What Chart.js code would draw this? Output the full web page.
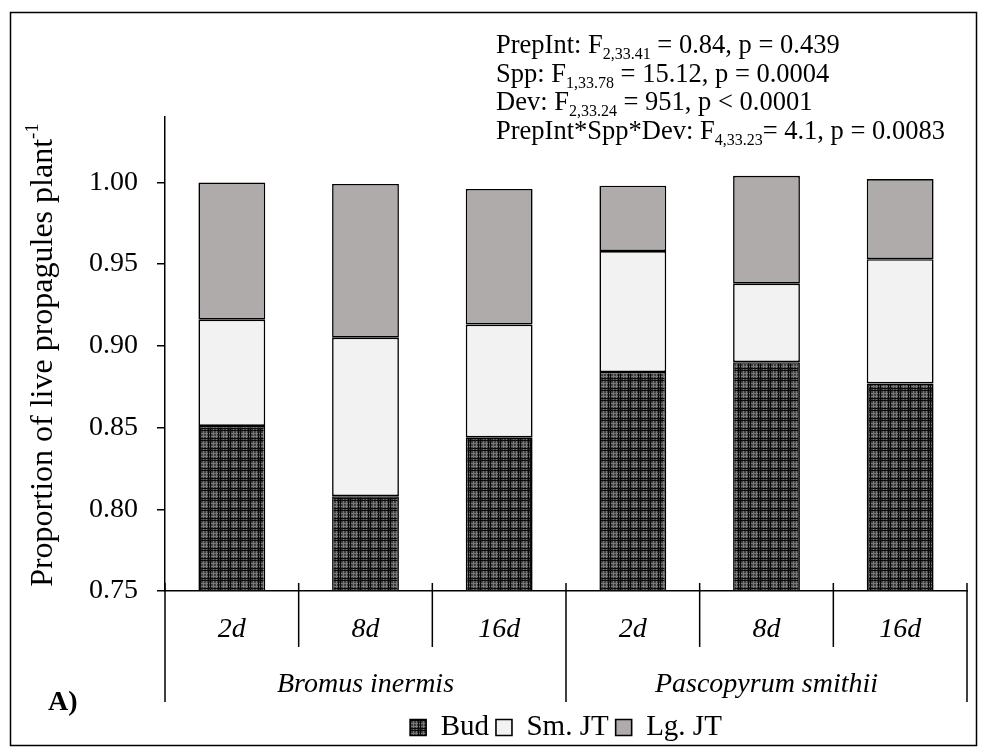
<!DOCTYPE html>
<html>
<head>
<meta charset="utf-8">
<script src="https://cdn.jsdelivr.net/npm/chart.js@4"></script>
<style>
  html, body { margin: 0; padding: 0; background: #fff; }
  #wrap { width: 987px; height: 753px; }
</style>
</head>
<body>
<div id="wrap"><canvas id="chart" width="987" height="753"></canvas></div>
<script>
const categories = ['2d', '8d', '16d', '2d', '8d', '16d'];
const groups = ['Bromus inermis', 'Pascopyrum smithii'];
const groupSizes = [3, 3];
const budValues = [0.851, 0.808, 0.844, 0.884, 0.890, 0.877];
const smJTValues = [0.065, 0.097, 0.069, 0.074, 0.048, 0.076];
const lgJTValues = [0.084, 0.094, 0.083, 0.040, 0.066, 0.049];
const yTicks = [0.75, 0.80, 0.85, 0.90, 0.95, 1.00];
const statLines = [
  ['PrepInt: F', '2,33.41', ' = 0.84, p = 0.439'],
  ['Spp: F', '1,33.78', ' = 15.12, p = 0.0004'],
  ['Dev: F', '2,33.24', ' = 951, p < 0.0001'],
  ['PrepInt*Spp*Dev: F', '4,33.23', '= 4.1, p = 0.0083']
];

const serif = "'Liberation Serif', 'Times New Roman', serif";

// dark checked fill used for the Bud segments
const makeBudPattern = () => {
  let c = document.createElement('canvas');
  c.width = 10;
  c.height = 10;
  let g = c.getContext('2d');
  g.fillStyle = '#3c3c3c';
  g.fillRect(0, 0, 10, 10);
  g.fillStyle = '#777';
  [3, 6].forEach(p => {
    g.fillRect(p, 0, 1, 10);
    g.fillRect(0, p, 10, 1);
  });
  g.fillStyle = '#0a0a0a';
  g.fillRect(0, 0, 1, 10);
  g.fillRect(0, 0, 10, 1);
  g.fillRect(8, 0, 1, 10);
  g.fillRect(0, 8, 10, 1);
  return g.createPattern(c, 'repeat');
};

const figureExtras = {
  id: 'figureExtras',
  afterDraw(chart) {
    const ctx = chart.ctx;
    const xs = chart.scales.x;
    const area = chart.chartArea;
    const step = (xs.right - xs.left) / categories.length;
    ctx.save();
    ctx.strokeStyle = '#000';
    ctx.fillStyle = '#000';
    ctx.lineWidth = 1.5;
    ctx.strokeRect(10.5, 12.5, 966, 733);

    // category separators, longer at group edges
    let edges = [0];
    groupSizes.forEach(n => edges.push(edges[edges.length - 1] + n));
    for (let i = 0; i <= categories.length; i++) {
      let px = i < categories.length ? xs.getPixelForValue(i) - step / 2 : xs.getPixelForValue(i - 1) + step / 2;
      let long = edges.includes(i);
      ctx.beginPath();
      ctx.moveTo(px, area.bottom - 8);
      ctx.lineTo(px, area.bottom + (long ? 111 : 56));
      ctx.stroke();
    }

    ctx.font = 'italic 28px ' + serif;
    ctx.textAlign = 'center';
    ctx.textBaseline = 'alphabetic';
    groups.forEach((name, gi) => {
      let a = xs.getPixelForValue(edges[gi]) - step / 2;
      let b = xs.getPixelForValue(edges[gi + 1] - 1) + step / 2;
      ctx.fillText(name, (a + b) / 2, area.bottom + 101);
    });

    ctx.font = 'bold 28px ' + serif;
    ctx.textAlign = 'left';
    ctx.fillText('A)', 48, 710);

    // stats block with subscripts
    statLines.forEach((line, i) => {
      let y = 53 + i * 28.5;
      let x = 496;
      ctx.font = '26.5px ' + serif;
      ctx.fillText(line[0], x, y);
      x += ctx.measureText(line[0]).width;
      ctx.font = '16px ' + serif;
      ctx.fillText(line[1], x, y + 6);
      x += ctx.measureText(line[1]).width;
      ctx.font = '26.5px ' + serif;
      ctx.fillText(line[2], x, y);
    });

    // y title with superscript
    ctx.translate(44, 355);
    ctx.rotate(-Math.PI / 2);
    ctx.textBaseline = 'middle';
    const mainTxt = 'Proportion of live propagules plant';
    const supTxt = '-1';
    ctx.font = '32px ' + serif;
    let w1 = ctx.measureText(mainTxt).width;
    ctx.font = '19px ' + serif;
    let w2 = ctx.measureText(supTxt).width;
    let start = -(w1 + w2) / 2;
    ctx.font = '32px ' + serif;
    ctx.fillText(mainTxt, start, 0);
    ctx.font = '19px ' + serif;
    ctx.fillText(supTxt, start + w1, -11);
    ctx.restore();
  }
};

const createChart = () => {
  let canvas = document.getElementById('chart');
  let budPattern = makeBudPattern();
  let barStyle = {
    borderColor: '#000',
    borderWidth: 1.6,
    borderSkipped: false,
    categoryPercentage: 1,
    barPercentage: 0.5,
    clip: 0
  };

  new Chart(canvas, {
    type: 'bar',
    data: {
      labels: categories,
      datasets: [
        Object.assign({ label: 'Bud', data: budValues, backgroundColor: budPattern }, barStyle),
        Object.assign({ label: 'Sm. JT', data: smJTValues, backgroundColor: '#f2f2f2' }, barStyle),
        Object.assign({ label: 'Lg. JT', data: lgJTValues, backgroundColor: '#afabab' }, barStyle)
      ]
    },
    options: {
      responsive: false,
      animation: false,
      layout: { padding: { left: 10, right: 20, top: 117, bottom: 1 } },
      scales: {
        x: {
          stacked: true,
          offset: true,
          grid: { display: false, drawTicks: false },
          border: { display: true, color: '#000', width: 1.5 },
          ticks: {
            color: '#000',
            padding: 22,
            font: { family: serif, size: 28, style: 'italic' }
          },
          afterFit: scale => { scale.height = 115; }
        },
        y: {
          stacked: true,
          min: 0.75,
          max: 1.04,
          grid: { drawOnChartArea: false, tickLength: 8, color: '#000', lineWidth: 1.5 },
          border: { display: true, color: '#000', width: 1.5 },
          ticks: {
            stepSize: 0.05,
            color: '#000',
            padding: 19,
            font: { family: serif, size: 28 },
            callback: v => Number(v).toFixed(2)
          },
          afterBuildTicks: scale => {
            scale.ticks = yTicks.map(v => ({ value: v }));
          },
          afterFit: scale => { scale.width = 155; }
        }
      },
      plugins: {
        legend: {
          position: 'bottom',
          fullSize: false,
          labels: {
            color: '#000',
            boxWidth: 16,
            boxHeight: 16,
            padding: 7,
            font: { family: serif, size: 29 }
          }
        },
        tooltip: { enabled: false }
      }
    },
    plugins: [figureExtras]
  });
};

createChart();
</script>
</body>
</html>
